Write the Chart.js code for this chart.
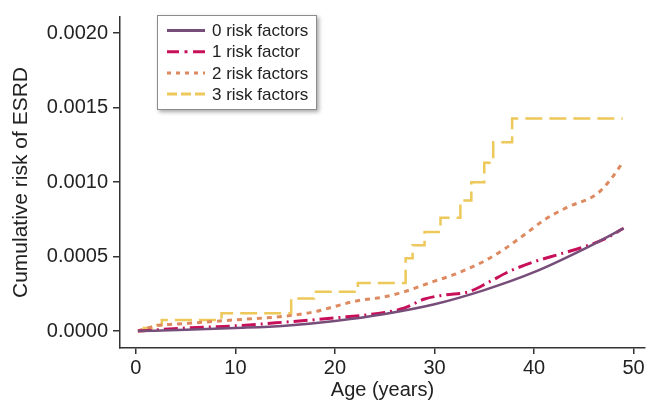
<!DOCTYPE html>
<html>
<head>
<meta charset="utf-8">
<script src="https://cdn.jsdelivr.net/npm/chart.js@4.4.1/dist/chart.umd.min.js"></script>
<style>
    html, body { margin: 0; padding: 0; background: #fff; }
    #wrap { width: 651px; height: 400px; position: relative; }
</style>
</head>
<body>
<div id="wrap"><canvas id="esrdChart"></canvas></div>
<script>
// Series labels and axis ticks
const seriesLabels = ['0 risk factors', '1 risk factor', '2 risk factors', '3 risk factors'];
const xTicks = [0, 10, 20, 30, 40, 50];
const yTicks = [0, 0.0005, 0.0010, 0.0015, 0.0020];

// 0 risk factors (smooth)
const ages0 = [0.2, 5, 10, 15, 20, 25, 30, 35, 40, 45, 49];
const risk0 = [0, 0.000008, 0.00002, 0.000036, 0.000068, 0.000115, 0.00018, 0.000275, 0.000395, 0.00055, 0.00069];

// 1 risk factor
const ages1 = [0.2, 5, 10, 15, 20, 25, 27, 29, 31, 33.5, 35.5, 37.5, 40, 42.5, 45, 47, 49];
const risk1 = [0, 0.00002, 0.000035, 0.00006, 0.000088, 0.000125, 0.000155, 0.000215, 0.000242, 0.000265, 0.00033, 0.0004, 0.000465, 0.000515, 0.000565, 0.000615, 0.00069];

// 2 risk factors
const ages2 = [0.2, 2, 5, 10, 15, 18, 20, 22, 25, 27, 30, 32, 35, 37, 39, 41, 43.3, 46.3, 47.6, 49];
const risk2 = [0, 0.000035, 0.00005, 0.000075, 0.0001, 0.00013, 0.000165, 0.0002, 0.00023, 0.000265, 0.000335, 0.00038, 0.00047, 0.00055, 0.000645, 0.000745, 0.00083, 0.00092, 0.00101, 0.00114];

// 3 risk factors (step function: age where the step happens, new level)
const ages3 = [0.2, 0.8, 1.6, 2.6, 8.6, 15.6, 17.9, 22.3, 27.1, 27.8, 29.0, 30.6, 32.6, 33.7, 35.0, 35.9, 37.8, 48.9];
const risk3 = [0, 0.00002, 0.00004, 0.000074, 0.000119, 0.000219, 0.000263, 0.000323, 0.000489, 0.000576, 0.000665, 0.000761, 0.000877, 0.001, 0.00113, 0.001267, 0.001428, 0.001428];

const colors = ['#774d79', '#c8105a', '#de8a60', '#edc85a'];
const plotDash = [[], [14, 5, 2, 5], [5, 5], [17, 7]];
const legendDash = [[], [12, 5.5, 3, 5.5], [4, 5], [10, 4]];

const toPoints = (xs, ys) => xs.map((x, i) => ({ x: x, y: ys[i] }));

const fontFamily = '"Liberation Sans", Arial, Helvetica, sans-serif';

// Floating legend with shadow
const legendBox = {
    id: 'legendBox',
    afterDraw(chart) {
        const ctx = chart.ctx;
        ctx.save();
        ctx.shadowColor = 'rgba(0,0,0,0.35)';
        ctx.shadowBlur = 4;
        ctx.shadowOffsetX = 2;
        ctx.shadowOffsetY = 2;
        ctx.fillStyle = '#fff';
        ctx.fillRect(157, 15, 160, 95);
        ctx.shadowColor = 'transparent';
        ctx.strokeStyle = '#8c8c8c';
        ctx.lineWidth = 1;
        ctx.strokeRect(157.5, 15.5, 159, 94);

        chart.data.datasets.forEach((ds, i) => {
            const y = 30.5 + i * 21.2;
            ctx.beginPath();
            ctx.setLineDash(legendDash[i]);
            ctx.strokeStyle = ds.borderColor;
            ctx.lineWidth = 3;
            ctx.moveTo(167, y);
            ctx.lineTo(205, y);
            ctx.stroke();
            ctx.setLineDash([]);
            ctx.fillStyle = '#222';
            ctx.font = '17px ' + fontFamily;
            ctx.textBaseline = 'middle';
            ctx.fillText(ds.label, 212, y + 1);
        });
        ctx.restore();
    }
};

const ctx = document.getElementById('esrdChart').getContext('2d');

const esrdChart = new Chart(ctx, {
    type: 'line',
    data: {
        datasets: [
            {
                label: seriesLabels[0],
                data: toPoints(ages0, risk0),
                borderColor: colors[0],
                borderWidth: 2.5,
                borderDash: plotDash[0],
                cubicInterpolationMode: 'monotone',
                fill: false
            },
            {
                label: seriesLabels[1],
                data: toPoints(ages1, risk1),
                borderColor: colors[1],
                borderWidth: 3,
                borderDash: plotDash[1],
                cubicInterpolationMode: 'monotone',
                fill: false
            },
            {
                label: seriesLabels[2],
                data: toPoints(ages2, risk2),
                borderColor: colors[2],
                borderWidth: 3,
                borderDash: plotDash[2],
                cubicInterpolationMode: 'monotone',
                fill: false
            },
            {
                label: seriesLabels[3],
                data: toPoints(ages3, risk3),
                borderColor: colors[3],
                borderWidth: 2.5,
                borderDash: plotDash[3],
                stepped: true,
                fill: false
            }
        ]
    },
    options: {
        responsive: true,
        maintainAspectRatio: false,
        animation: false,
        devicePixelRatio: 1,
        layout: { padding: { top: 16, right: 6, left: 0, bottom: 0 } },
        elements: { point: { radius: 0, hoverRadius: 0 } },
        plugins: {
            legend: { display: false },
            tooltip: { enabled: false }
        },
        scales: {
            x: {
                type: 'linear',
                min: -1.6,
                max: 51.15,
                afterBuildTicks: s => { s.ticks = xTicks.map(v => ({ value: v })); },
                afterFit: s => { s.height = 52; },
                grid: { drawOnChartArea: false, tickLength: 6, color: '#333', lineWidth: 1.5 },
                border: { display: true, color: '#333', width: 1.5 },
                ticks: {
                    font: { family: fontFamily, size: 20 },
                    color: '#222',
                    padding: 2,
                    maxRotation: 0,
                    callback: v => String(v)
                },
                title: {
                    display: true,
                    text: 'Age (years)',
                    color: '#222',
                    font: { family: fontFamily, size: 20, lineHeight: 1 },
                    padding: { top: 0, bottom: 0 }
                }
            },
            y: {
                min: -0.000114,
                max: 0.002109,
                afterBuildTicks: s => { s.ticks = yTicks.map(v => ({ value: v })); },
                afterFit: s => { s.width = 120; },
                grid: { drawOnChartArea: false, tickLength: 7, color: '#333', lineWidth: 1.5 },
                border: { display: true, color: '#333', width: 1.5 },
                ticks: {
                    font: { family: fontFamily, size: 20 },
                    color: '#222',
                    padding: 5,
                    callback: v => v.toFixed(4)
                },
                title: {
                    display: true,
                    text: 'Cumulative risk of ESRD',
                    color: '#222',
                    font: { family: fontFamily, size: 21, lineHeight: 1 },
                    padding: { top: 10.5, bottom: 0 }
                }
            }
        }
    },
    plugins: [legendBox]
});
</script>
</body>
</html>
